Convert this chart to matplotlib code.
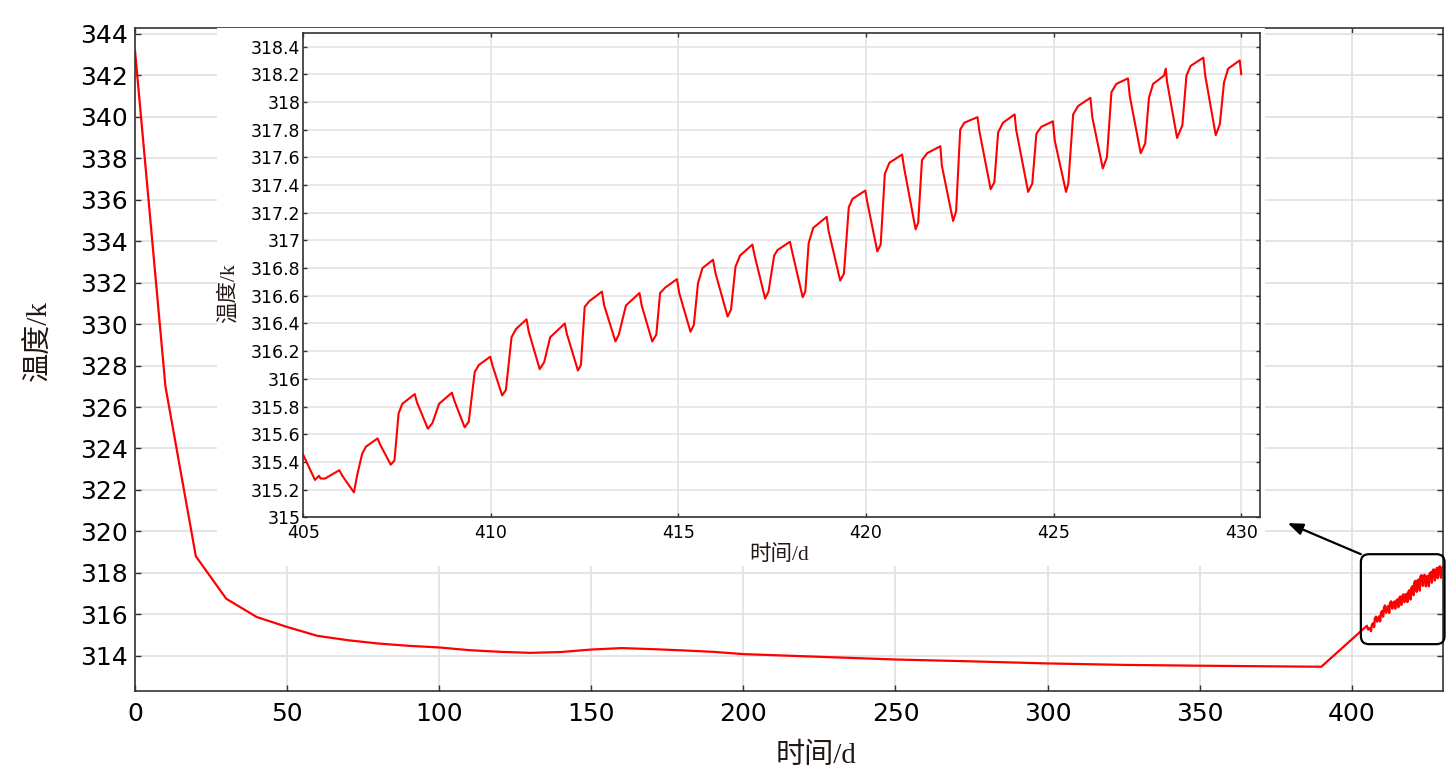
import matplotlib
matplotlib.use('Agg')
import matplotlib.pyplot as plt
from matplotlib.patches import Rectangle, FancyBboxPatch
from matplotlib.ticker import FuncFormatter, MultipleLocator

# long-term curve (days, K)
days_main = [0, 10, 20, 30, 40, 50, 60, 70, 80, 90, 100, 110, 120, 130, 140,
             150, 160, 170, 180, 190, 200, 225, 250, 275, 300, 325, 350, 390]
temp_main = [343.2, 327.0, 318.8, 316.75, 315.87, 315.39, 314.96, 314.75, 314.59,
             314.48, 314.40, 314.27, 314.19, 314.14, 314.18, 314.30, 314.37, 314.32,
             314.26, 314.19, 314.08, 313.95, 313.82, 313.73, 313.63, 313.56, 313.52,
             313.47]

# detail 405-430 d
days_zoom = [405.00, 405.31, 405.42, 405.46, 405.58, 405.96, 406.04, 406.35, 406.44,
             406.57, 406.67, 406.98, 407.04, 407.33, 407.43, 407.54, 407.64, 407.97,
             408.03, 408.32, 408.44, 408.62, 408.96, 409.03, 409.30, 409.41, 409.57,
             409.68, 409.98, 410.05, 410.30, 410.40, 410.55, 410.67, 410.95, 411.01,
             411.30, 411.42, 411.58, 411.97, 412.02, 412.32, 412.40, 412.50, 412.62,
             412.96, 413.02, 413.32, 413.41, 413.60, 413.96, 414.02, 414.30, 414.41,
             414.51, 414.65, 414.96, 415.02, 415.32, 415.41, 415.52, 415.64, 415.92,
             415.99, 416.31, 416.40, 416.52, 416.64, 416.97, 417.03, 417.31, 417.40,
             417.55, 417.64, 417.97, 418.02, 418.31, 418.38, 418.47, 418.59, 418.95,
             419.00, 419.31, 419.41, 419.54, 419.64, 419.98, 420.03, 420.30, 420.39,
             420.50, 420.62, 420.96, 421.01, 421.32, 421.39, 421.49, 421.63, 421.98,
             422.02, 422.32, 422.40, 422.51, 422.62, 422.97, 423.02, 423.32, 423.42,
             423.52, 423.65, 423.96, 424.00, 424.32, 424.43, 424.54, 424.67, 424.98,
             425.03, 425.33, 425.39, 425.52, 425.65, 425.98, 426.03, 426.31, 426.42,
             426.54, 426.67, 426.98, 427.03, 427.32, 427.44, 427.54, 427.65, 427.94,
             427.99, 428.02, 428.29, 428.43, 428.54, 428.65, 428.99, 429.04, 429.32,
             429.43, 429.54, 429.65, 429.96, 430.00]
temp_zoom = [315.45, 315.27, 315.30, 315.28, 315.28, 315.34, 315.30, 315.18, 315.31,
             315.46, 315.51, 315.57, 315.53, 315.38, 315.41, 315.75, 315.82, 315.89,
             315.83, 315.64, 315.68, 315.82, 315.90, 315.84, 315.65, 315.69, 316.05,
             316.10, 316.16, 316.09, 315.88, 315.92, 316.30, 316.36, 316.43, 316.34,
             316.07, 316.12, 316.30, 316.40, 316.33, 316.06, 316.10, 316.52, 316.56,
             316.63, 316.53, 316.27, 316.32, 316.53, 316.62, 316.53, 316.27, 316.32,
             316.62, 316.66, 316.72, 316.62, 316.34, 316.39, 316.69, 316.80, 316.86,
             316.76, 316.45, 316.50, 316.81, 316.89, 316.97, 316.89, 316.58, 316.63,
             316.89, 316.93, 316.99, 316.93, 316.59, 316.63, 316.98, 317.09, 317.17,
             317.07, 316.71, 316.76, 317.24, 317.30, 317.36, 317.28, 316.92, 316.97,
             317.48, 317.56, 317.62, 317.53, 317.08, 317.13, 317.58, 317.63, 317.68,
             317.54, 317.14, 317.21, 317.80, 317.85, 317.89, 317.79, 317.37, 317.42,
             317.78, 317.85, 317.91, 317.80, 317.35, 317.41, 317.77, 317.82, 317.86,
             317.72, 317.35, 317.41, 317.91, 317.97, 318.03, 317.89, 317.52, 317.60,
             318.07, 318.13, 318.17, 318.04, 317.63, 317.70, 318.03, 318.13, 318.19,
             318.24, 318.15, 317.74, 317.83, 318.19, 318.26, 318.32, 318.19, 317.76,
             317.84, 318.14, 318.24, 318.30, 318.20]

LABEL_FONT = ['Liberation Serif', 'Noto Sans CJK SC']
LABEL_COLOR = '#231815'
GRID = '#e2e2e2'
SPINE = '#333333'
W, H = 1450, 781

fmt = FuncFormatter(lambda v, p: '{:g}'.format(v))

fig = plt.figure(figsize=(W / 100, H / 100), dpi=100)

# main axes
ax = fig.add_axes([135 / W, 1 - 691 / H, 1308 / W, 663.3 / H])
ax.plot(days_main + days_zoom, temp_main + temp_zoom, color='red', lw=1.6)
ax.set_xlim(0, 430)
ax.set_ylim(312.3, 344.3)
ax.xaxis.set_major_locator(MultipleLocator(50))
ax.yaxis.set_major_locator(MultipleLocator(2))
ax.yaxis.set_major_formatter(fmt)
ax.grid(color=GRID, lw=1.3)
ax.set_axisbelow(True)
ax.tick_params(direction='in', length=4, width=1, color=SPINE, labelsize=18,
               top=True, right=True)
ax.tick_params(axis='x', pad=8)
ax.tick_params(axis='y', pad=5)
for s in ax.spines.values():
    s.set_color(SPINE)
    s.set_linewidth(1.2)

# white backdrop behind the inset
fig.add_artist(Rectangle((217 / W, 1 - 566 / H), 1048 / W, 538 / H,
                         transform=fig.transFigure, facecolor='white',
                         edgecolor='none', zorder=1))

# inset
axins = fig.add_axes([303.3 / W, 1 - 517.3 / H, 956.7 / W, 484.6 / H], zorder=2)
axins.plot(days_zoom, temp_zoom, color='red', lw=1.5)
axins.set_xlim(405, 430.5)
axins.set_ylim(315, 318.5)
axins.xaxis.set_major_locator(MultipleLocator(5))
axins.yaxis.set_major_locator(MultipleLocator(0.2))
axins.yaxis.set_major_formatter(fmt)
axins.grid(color=GRID, lw=1.1)
axins.set_axisbelow(True)
axins.tick_params(direction='in', length=3, width=1, color=SPINE, labelsize=12.5,
                  top=True, right=True)
axins.tick_params(axis='x', pad=5)
axins.tick_params(axis='y', pad=2)
for s in axins.spines.values():
    s.set_color(SPINE)
    s.set_linewidth(1.2)

# rounded box around the zoomed region + arrow to inset
p0 = ax.transData.transform((0, 0))
p1 = ax.transData.transform((1, 1))
sx, sy = p1[0] - p0[0], p1[1] - p0[1]
bx0 = days_zoom[0] - 2.0
bx1 = days_zoom[-1] + 0.5
by0 = min(temp_zoom) - 0.62
by1 = max(temp_zoom) + 0.58
box = FancyBboxPatch((bx0, by0), bx1 - bx0, by1 - by0,
                     boxstyle='round,pad=0,rounding_size={}'.format(8 / sx),
                     mutation_aspect=sx / sy, facecolor='none',
                     edgecolor='black', lw=1.6, clip_on=False, zorder=5)
ax.add_patch(box)
ax.annotate('', xy=(1.029, -0.012), xycoords=axins.transAxes,
            xytext=(bx0, by1), textcoords='data', annotation_clip=False,
            arrowprops=dict(arrowstyle='-|>,head_length=0.9,head_width=0.35',
                            color='black', lw=1.6, shrinkA=0, shrinkB=0))

# axis labels
fig.text(816 / W, 1 - 756 / H, '时间/d', ha='center', va='center', fontsize=21,
         family=LABEL_FONT, color=LABEL_COLOR)
fig.text(38 / W, 1 - 341 / H, '温度/k', ha='center', va='center', fontsize=21,
         rotation=90, family=LABEL_FONT, color=LABEL_COLOR)
fig.text(779 / W, 1 - 555 / H, '时间/d', ha='center', va='center', fontsize=15.5,
         family=LABEL_FONT, color=LABEL_COLOR, zorder=3)
fig.text(229 / W, 1 - 293 / H, '温度/k', ha='center', va='center', fontsize=15.5,
         rotation=90, family=LABEL_FONT, color=LABEL_COLOR, zorder=3)

fig.savefig('out.png', dpi=100)
